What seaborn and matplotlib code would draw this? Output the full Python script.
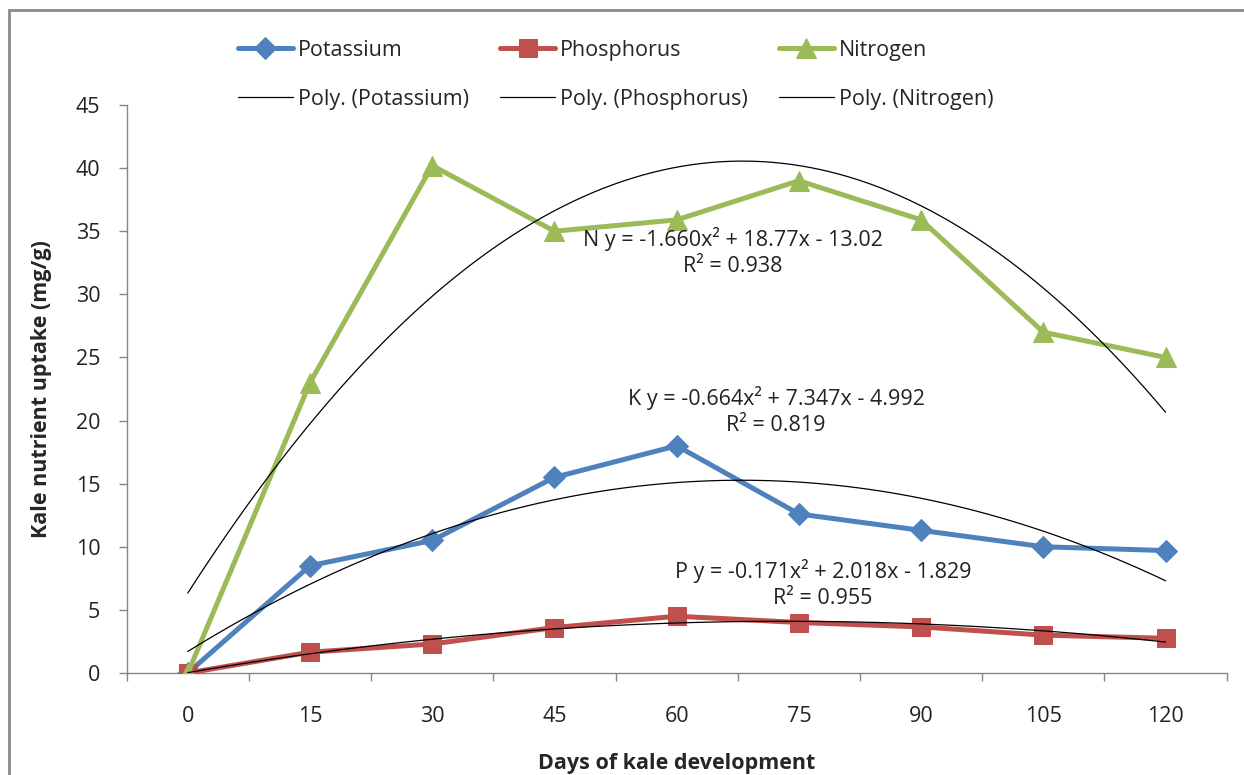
import matplotlib
matplotlib.use("Agg")
import matplotlib.pyplot as plt
import seaborn as sns
import numpy as np
from matplotlib.patches import Rectangle
from matplotlib.ticker import FixedLocator

# ---- data ----
days = [0, 15, 30, 45, 60, 75, 90, 105, 120]
potassium = [0.0, 8.5, 10.5, 15.5, 18.0, 12.6, 11.3, 10.0, 9.7]
phosphorus = [0.0, 1.65, 2.3, 3.6, 4.5, 4.0, 3.65, 3.0, 2.75]
nitrogen = [0.0, 23.0, 40.2, 35.0, 35.9, 39.0, 35.9, 27.0, 25.0]
series_names = ["Potassium", "Phosphorus", "Nitrogen"]
trend_names = ["Poly. (Potassium)", "Poly. (Phosphorus)", "Poly. (Nitrogen)"]
eq_labels = ["K y = -0.664x\u00b2 + 7.347x - 4.992\nR\u00b2 = 0.819",
             "P y = -0.171x\u00b2 + 2.018x - 1.829\nR\u00b2 = 0.955",
             "N y = -1.660x\u00b2 + 18.77x - 13.02\nR\u00b2 = 0.938"]
y_ticks = [0, 5, 10, 15, 20, 25, 30, 35, 40, 45]
x_label = "Days of kale development"
y_label = "Kale nutrient uptake (mg/g)"

sns.set_style("white")
plt.rcParams['font.family'] = ['Open Sans', 'DejaVu Sans']
FS = 15.5

W, H = 1244, 775
fig = plt.figure(figsize=(W / 100, H / 100), dpi=100)
ax = fig.add_axes([126.7 / W, 1 - 673 / H, 1100 / W, 568 / H])

colors = ["#4F81BD", "#C0504D", "#9BBB59"]
markers = ["D", "s", "^"]
msizes = [11, 13, 14]
values = [potassium, phosphorus, nitrogen]

series_handles = []
for vals, name, c, m, ms in zip(values, series_names, colors, markers, msizes):
    sns.lineplot(x=days, y=vals, ax=ax, color=c, lw=3.6, marker=m, markersize=ms,
                 markeredgecolor=c, label=name, legend=False, zorder=3)
    series_handles.append(ax.lines[-1])

trend_handles = []
for vals, name in zip(values, trend_names):
    sns.regplot(x=np.array(days, float), y=np.array(vals, float), order=2, ci=None,
                scatter=False, truncate=True, ax=ax,
                line_kws=dict(color="black", lw=0.9, zorder=4))
    trend_handles.append(ax.lines[-1])

ax.set_xlim(-7.5, 127.5)
ax.set_ylim(0, 45)
ax.set_xticks(days)
ax.set_xticklabels([str(d) for d in days])
ax.xaxis.set_minor_locator(FixedLocator(list(np.arange(-7.5, 128, 15))))
ax.set_yticks(y_ticks)
ax.tick_params(axis="x", which="major", length=0, pad=24, labelsize=FS, labelcolor="#222222")
ax.tick_params(axis="x", which="minor", length=6, width=1, color="#868686", direction="out")
ax.tick_params(axis="y", which="major", length=6, width=1, color="#868686",
               direction="out", pad=13, labelsize=FS, labelcolor="#222222")
ax.xaxis.set_ticks_position("bottom")
ax.yaxis.set_ticks_position("left")
for s in ["top", "right"]:
    ax.spines[s].set_visible(False)
for s in ["left", "bottom"]:
    ax.spines[s].set_color("#868686")
    ax.spines[s].set_linewidth(1)

ax.set_xlabel(x_label, fontsize=FS, fontweight="bold", labelpad=0)
ax.xaxis.set_label_coords(0.5, (673 - 764) / 568)
ax.xaxis.label.set_verticalalignment("center")
ax.set_ylabel(y_label, fontsize=FS, fontweight="bold")
ax.yaxis.set_label_coords((42 - 126.7) / 1100, 0.5)
ax.yaxis.label.set_verticalalignment("center")
ax.yaxis.label.set_horizontalalignment("center")

# equation labels (positions in pixels of the figure)
eq_pos = [(776, 411), (823, 584), (733, 252)]
for txt, (px, py) in zip(eq_labels, eq_pos):
    fig.text(px / W, 1 - py / H, txt, ha="center", va="center", fontsize=FS,
             color="#222222", linespacing=1.35)

handles = []
labels = []
for sh, th, sn, tn in zip(series_handles, trend_handles, series_names, trend_names):
    handles += [sh, th]
    labels += [sn, tn]
fig.legend(handles, labels, ncol=3, loc="upper left",
           bbox_to_anchor=(238 / W, 1 - 40 / H), frameon=False, fontsize=FS,
           handlelength=2.55, handletextpad=0.23, columnspacing=1.45,
           labelspacing=1.3, borderpad=0, borderaxespad=0)

fig.patches.append(Rectangle((9 / W, -0.2), 1.5, 1.2 - 10 / H,
                             transform=fig.transFigure, fill=False,
                             edgecolor="#8a8a8a", lw=2, zorder=0))

fig.savefig("out.png", dpi=100)
